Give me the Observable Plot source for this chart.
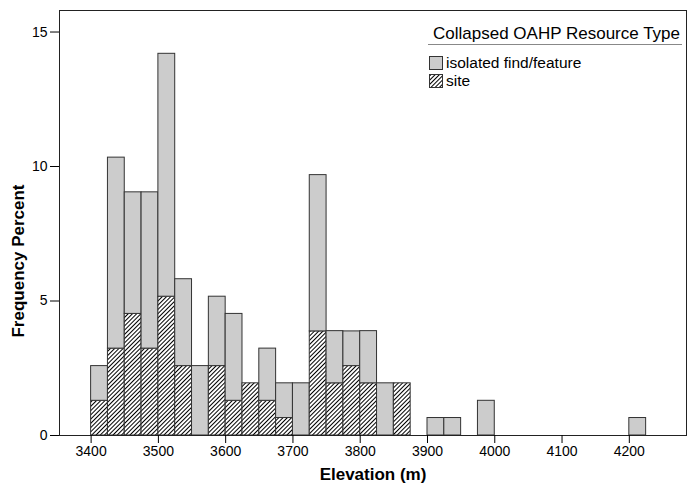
<!DOCTYPE html>
<html><head><meta charset="utf-8">
<script src="https://cdn.jsdelivr.net/npm/d3@7"></script>
<script src="https://cdn.jsdelivr.net/npm/@observablehq/plot@0.6"></script>
<style>
body{margin:0;background:#fff}
#chart svg{font-family:"Liberation Sans",Arial,sans-serif;overflow:visible}
#chart [aria-label="x-axis label"] text{font-weight:bold;font-size:17px;fill:#000}
</style>
</head><body><div id="chart"></div>
<script>
// Bin starts (m), bin width 25 m
const binStarts = [3400,3425,3450,3475,3500,3525,3550,3575,3600,3625,3650,3675,3700,3725,3750,3775,3800,3825,3850,3900,3925,3975,4200];
const sitePct =     [1.29,3.23,4.52,3.23,5.16,2.58,0,2.58,1.29,1.94,1.29,0.65,0,3.87,1.94,2.58,1.94,0,1.94,0,0,0,0];
const isolatedPct = [1.29,7.10,4.52,5.81,9.03,3.23,2.58,2.58,3.23,0,1.94,1.29,1.94,5.81,1.94,1.29,1.94,1.94,0,0.65,0.65,1.29,0.65];
const binWidth = 25;
const xTicks = [3400,3500,3600,3700,3800,3900,4000,4100,4200];
const yTicks = [0,5,10,15];
const typeNames = ["isolated find/feature","site"];
const legendTitle = "Collapsed OAHP Resource Type";
const yLabel = "Frequency Percent";

const fills = {"site":"url(#hatch)","isolated find/feature":"#cccccc"};
const rows = [];
binStarts.forEach((b,i)=>{
  if (sitePct[i]>0) rows.push({x1:b,x2:b+binWidth,y1:0,y2:sitePct[i],type:"site"});
  if (isolatedPct[i]>0) rows.push({x1:b,x2:b+binWidth,y1:sitePct[i],y2:sitePct[i]+isolatedPct[i],type:"isolated find/feature"});
});

const W=688,H=489;
const chart = Plot.plot({
  width:W,height:H,
  marginLeft:59,marginRight:2,marginTop:10,marginBottom:54,
  style:{fontSize:"14px",color:"#000",background:"#fff"},
  x:{domain:[3353,4285]},
  y:{domain:[0,15.8]},
  marks:[
    Plot.rect(rows,{x1:"x1",x2:"x2",y1:"y1",y2:"y2",fill:d=>fills[d.type],stroke:"#333",strokeWidth:1}),
    Plot.frame({stroke:"#222",strokeWidth:1}),
    Plot.axisX({ticks:xTicks,tickSize:8,tickPadding:3,fontSize:14,label:"Elevation (m)",labelAnchor:"center",labelArrow:"none",labelOffset:44,tickFormat:d=>String(d)}),
    Plot.axisY({ticks:yTicks,tickSize:9,tickPadding:3,fontSize:14,label:null})
  ]
});
document.getElementById("chart").appendChild(chart);

const svg = d3.select(chart);
const defs = svg.insert("defs",":first-child");
const pat = defs.append("pattern").attr("id","hatch").attr("patternUnits","userSpaceOnUse")
  .attr("width",3).attr("height",3).attr("patternTransform","rotate(45)");
pat.append("rect").attr("width",3).attr("height",3).attr("fill","#fff");
pat.append("line").attr("x1",0.5).attr("y1",0).attr("x2",0.5).attr("y2",3).attr("stroke","#000").attr("stroke-width",1);

// Y axis title
svg.append("text").attr("transform","translate(24,261) rotate(-90)")
  .attr("text-anchor","middle").attr("font-size",17).attr("font-weight","bold").attr("fill","#000").text(yLabel);

// Legend
const lg = svg.append("g").attr("class","legend").attr("text-anchor","start");
lg.append("text").attr("x",680).attr("y",39).attr("text-anchor","end")
  .attr("font-size",17).attr("fill","#000").text(legendTitle);
lg.append("line").attr("x1",428).attr("x2",682).attr("y1",44.5).attr("y2",44.5).attr("stroke","#888").attr("stroke-width",1);
typeNames.forEach((t,i)=>{
  const y0 = 56 + i*18;
  lg.append("rect").attr("x",429.5).attr("y",y0+0.5).attr("width",13).attr("height",13)
    .attr("fill",fills[t]).attr("stroke","#333");
  lg.append("text").attr("x",446).attr("y",y0+11.5).attr("text-anchor","start").attr("font-size",15.5).attr("fill","#000").text(t);
});
</script>
</body></html>
